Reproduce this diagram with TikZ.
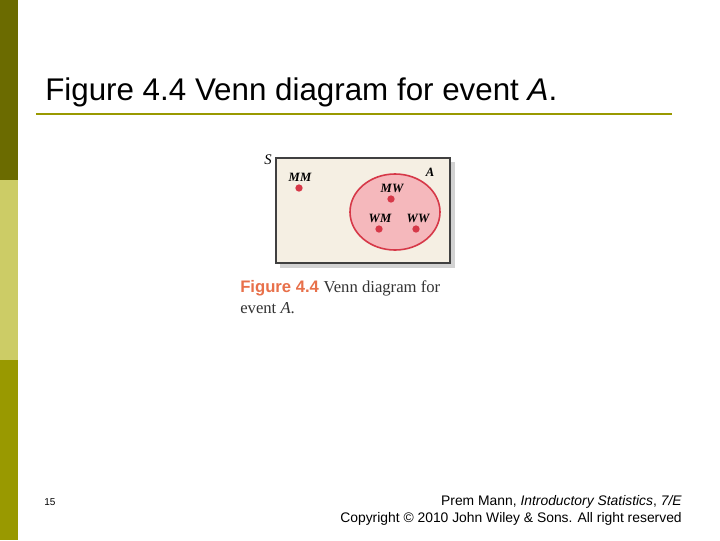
\documentclass[tikz,border=0pt]{standalone}
\usepackage{fontspec}
\setmainfont{Liberation Sans}
\newfontfamily\serifx{Liberation Serif}
\definecolor{olive1}{HTML}{6B6B00}
\definecolor{olive2}{HTML}{CCCC66}
\definecolor{olive3}{HTML}{999900}
\definecolor{boxbg}{HTML}{F5EFE3}
\definecolor{redc}{HTML}{D63848}
\definecolor{pinkc}{HTML}{F5B8BC}
\definecolor{orangec}{HTML}{E8704A}
\tikzset{dot/.style={circle,fill=redc,inner sep=0pt,minimum size=5.5pt},
lbl/.style={font=\serifx\itshape\bfseries\fontsize{9.5}{11}\selectfont,inner sep=0pt}}
\begin{document}
\begin{tikzpicture}[x=0.75pt,y=-0.75pt]
\useasboundingbox (0,0) rectangle (720,540);
\fill[white] (0,0) rectangle (720,540);
\fill[olive1] (0,0) rectangle (18,180);
\fill[olive2] (0,180) rectangle (18,360);
\fill[olive3] (0,360) rectangle (18,540);
\node[anchor=west,inner sep=0pt,font=\fontsize{23.5}{26}\selectfont] (title) at (45,92) {Figure 4.4 Venn diagram for event \textit{A}.};
\draw[olive3,line width=2.2pt] (36,114) -- (672,114);
% box
\fill[gray!35] (280,162) rectangle (455,268);
\draw[fill=boxbg,draw=black!75,line width=0.9pt] (276,158) rectangle (450,263);
\draw[fill=pinkc,draw=redc,line width=1.2pt] (395,212) ellipse (45 and 38);
\node[lbl,font=\serifx\itshape\fontsize{11}{12}\selectfont] (S) at (268,160) {S};
\node[lbl] (A) at (430,172) {A};
\node[dot] (mm) at (299,188) {};
\node[dot] (mw) at (391,199) {};
\node[dot] (wm) at (379,229) {};
\node[dot] (ww) at (416,229) {};
\node[lbl] at (300,177) {MM};
\node[lbl] at (392,188) {MW};
\node[lbl] at (380,218) {WM};
\node[lbl] at (418,218) {WW};
\node[anchor=west,inner sep=0pt] (cap1) at (240,288) {\fontsize{12.5}{14}\selectfont\color{orangec}\bfseries Figure 4.4\ \color{black!80}\serifx\mdseries Venn diagram for};
\node[anchor=west,inner sep=0pt] (cap2) at (240,308) {\fontsize{12.5}{14}\selectfont\color{black!80}\serifx event \textit{A}.};
\node[anchor=west,inner sep=0pt,font=\fontsize{7.5}{9}\selectfont] (pg) at (44,502) {15};
\node[anchor=east,inner sep=0pt,font=\fontsize{10.4}{12}\selectfont] (f1) at (682,502) {Prem Mann, \textit{Introductory Statistics}, \textit{7/E}};
\node[anchor=east,inner sep=0pt,font=\fontsize{10.4}{12}\selectfont] (f2) at (682,519) {Copyright © 2010 John Wiley \& Sons. All right reserved};
\end{tikzpicture}
\end{document}
